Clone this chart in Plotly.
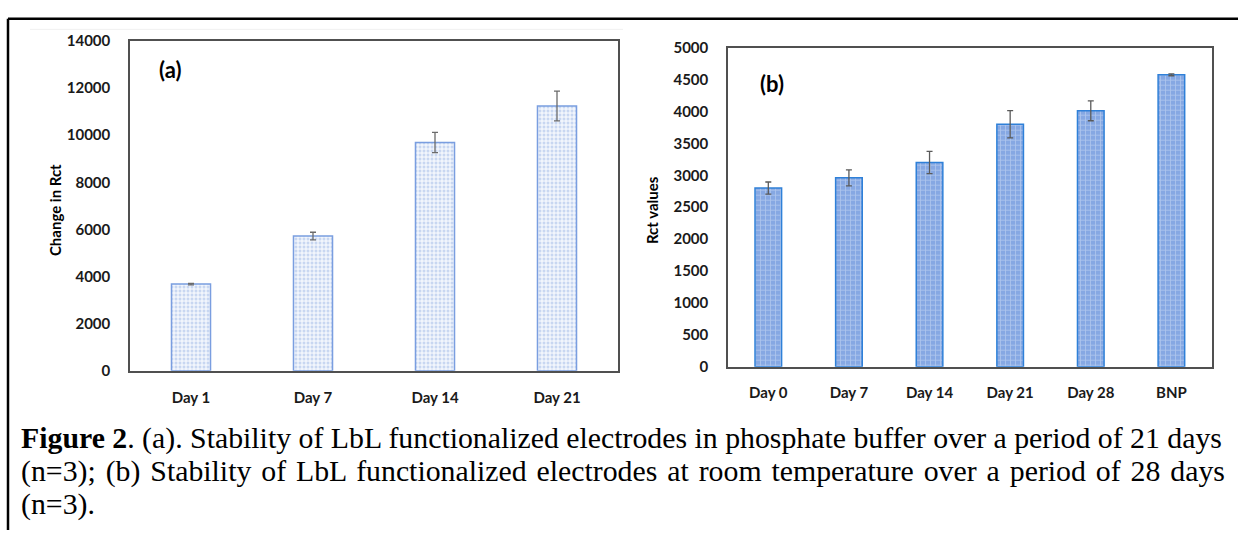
import plotly.graph_objects as go

W, H = 1238, 538

# ---- data ----
cats_a = ["Day 1", "Day 7", "Day 14", "Day 21"]
vals_a = [3680, 5720, 9690, 11240]
err_a = [30, 160, 430, 630]

cats_b = ["Day 0", "Day 7", "Day 14", "Day 21", "Day 28", "BNP"]
vals_b = [2800, 2960, 3200, 3800, 4010, 4575]
err_b = [95, 125, 175, 215, 155, 15]

yticks_a = [0, 2000, 4000, 6000, 8000, 10000, 12000, 14000]
ylabels_a = ["0", "2000", "4000", "6000", "8000", "10000", "12000", "14000"]
yticks_b = [0, 500, 1000, 1500, 2000, 2500, 3000, 3500, 4000, 4500, 5000]
ylabels_b = ["0", "500", "1000", "1500", "2000", "2500", "3000", "3500", "4000", "4500", "5000"]

caption_lines = [
    "<b>Figure 2</b>. (a). Stability of LbL functionalized electrodes in phosphate buffer over a period of 21 days",
    "(n=3); (b) Stability of LbL functionalized electrodes at room temperature over a period of 28 days",
    "(n=3).",
]

def px(x):
    return x / W

def py(y):
    return 1 - y / H

FONT = "Lato"
tickfont = dict(family=FONT, size=15, color="#1a1a1a", weight="bold")

fig = go.Figure()

fig.add_trace(go.Bar(
    x=cats_a, y=vals_a, xaxis="x", yaxis="y", width=0.32,
    marker=dict(color="#eef3fb", line=dict(color="#7a9ee0", width=1.5),
                pattern=dict(shape=".", fgcolor="#9bb6e6", bgcolor="#f2f6fc", size=4, solidity=0.45)),
    error_y=dict(type="data", array=err_a, color="#6b6b6b", thickness=1.3, width=3),
    showlegend=False,
))

fig.add_trace(go.Bar(
    x=cats_b, y=vals_b, xaxis="x2", yaxis="y2", width=0.33,
    marker=dict(color="#8eaee6", line=dict(color="#2f80d8", width=1.5),
                pattern=dict(shape="+", fgcolor="#d7e3f6", bgcolor="#86a8e3", size=5, solidity=0.3)),
    error_y=dict(type="data", array=err_b, color="#5a5a5a", thickness=1.3, width=3),
    showlegend=False,
))

axline = dict(showline=True, linecolor="#505050", linewidth=1.5, mirror=True,
              showgrid=False, zeroline=False, ticks="")

fig.update_layout(
    width=W, height=H,
    margin=dict(l=0, r=0, t=0, b=0),
    paper_bgcolor="white", plot_bgcolor="white",
    xaxis=dict(domain=[px(130), px(618)], anchor="y", tickfont=tickfont,
               ticklabelstandoff=12, **axline),
    yaxis=dict(domain=[py(373.3), py(32)], anchor="x", range=[0, 14000],
               tickvals=yticks_a, ticktext=ylabels_a, tickfont=tickfont,
               ticklabelstandoff=15, **axline),
    xaxis2=dict(domain=[px(728), px(1211.7)], anchor="y2", tickfont=tickfont,
                ticklabelstandoff=12, **axline),
    yaxis2=dict(domain=[py(369), py(39)], anchor="x2", range=[0, 5000],
                tickvals=yticks_b, ticktext=ylabels_b, tickfont=tickfont,
                ticklabelstandoff=15, **axline),
)

annos = [
    dict(x=px(170), y=py(62), text="<b>(a)</b>", font=dict(family=FONT, size=22, color="black")),
    dict(x=px(772), y=py(76), text="<b>(b)</b>", font=dict(family=FONT, size=22, color="black")),
    dict(x=px(55), y=py(207), text="<b>Change in Rct</b>", textangle=-90,
         font=dict(family=FONT, size=15, color="black")),
    dict(x=px(652), y=py(207), text="<b>Rct values</b>", textangle=-90,
         font=dict(family=FONT, size=15, color="black")),
]
HS = "\u200a"
cap_texts = [caption_lines[0], caption_lines[1].replace(" ", " " + HS), caption_lines[2]]
cap_y = [443, 477, 511]
for t, yy in zip(cap_texts, cap_y):
    annos.append(dict(x=px(19), y=py(yy), text=t, xanchor="left", yanchor="middle",
                      font=dict(family="Liberation Serif", size=29.8, color="black")))
for a in annos:
    a.setdefault("xanchor", "center")
    a.setdefault("yanchor", "middle")
    a.update(xref="paper", yref="paper", showarrow=False)
fig.update_layout(annotations=annos)

shapes = [
    dict(type="line", x0=px(8), x1=1, y0=py(9), y1=py(9), line=dict(color="black", width=2.5)),
    dict(type="line", x0=px(8), x1=px(8), y0=py(9), y1=0, line=dict(color="black", width=2.5)),
    dict(type="line", x0=px(30), x1=px(623), y0=py(20), y1=py(20), line=dict(color="#f0f0f0", width=1)),
]
for s in shapes:
    s.update(xref="paper", yref="paper")
fig.update_layout(shapes=shapes)

fig.write_html(
    "out.html",
    post_script="document.body.style.margin='0';document.body.style.overflow='hidden';"
                "document.documentElement.style.overflow='hidden';",
)
